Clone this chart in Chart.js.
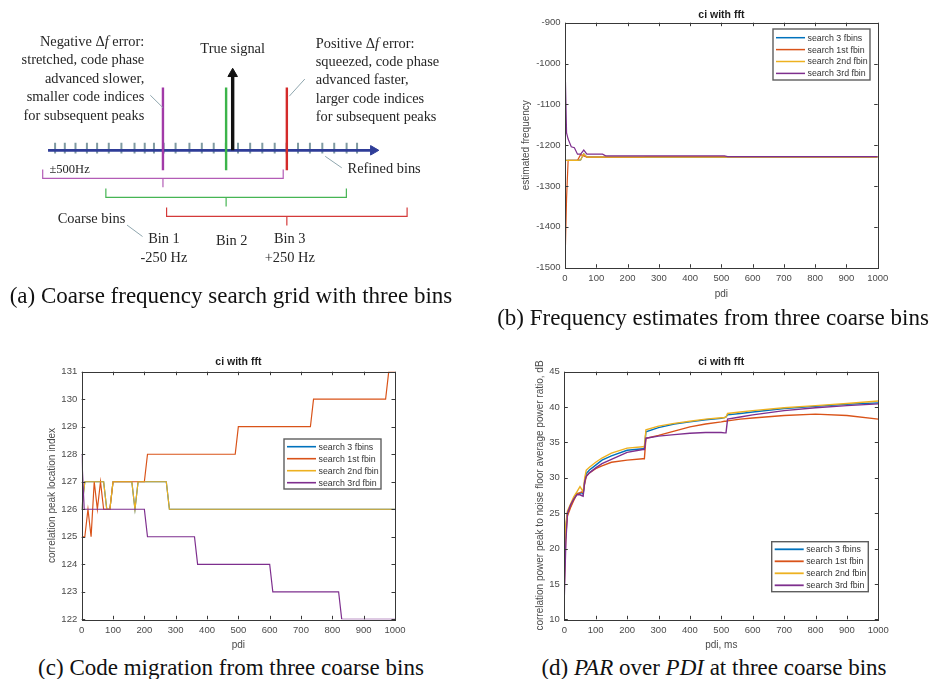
<!DOCTYPE html>
<html><head><meta charset="utf-8">
<script src="https://cdn.jsdelivr.net/npm/chart.js@4"></script>
<style>
html,body{margin:0;padding:0;background:#fff;}
body{width:933px;height:679px;position:relative;overflow:hidden;}
.pane{position:absolute;}
.pane canvas{display:block;}
.cap{position:absolute;font-family:"Liberation Serif","Times New Roman",serif;font-size:23px;color:#111;text-align:center;white-space:nowrap;line-height:26px;width:520px;}
</style></head><body>
<div class="pane" style="left:0;top:0;width:460px;height:285px"><canvas id="ca" width="460" height="285" style="width:460px;height:285px"></canvas></div>
<div class="pane" style="left:520px;top:0;width:413px;height:300px"><canvas id="cb" width="413" height="300" style="width:413px;height:300px"></canvas></div>
<div class="pane" style="left:0;top:335px;width:460px;height:316px"><canvas id="cc" width="460" height="316" style="width:460px;height:316px"></canvas></div>
<div class="pane" style="left:520px;top:335px;width:413px;height:316px"><canvas id="cd" width="413" height="316" style="width:413px;height:316px"></canvas></div>
<div class="cap" style="left:-29px;top:283px">(a) Coarse frequency search grid with three bins</div>
<div class="cap" style="left:453px;top:305px">(b) Frequency estimates from three coarse bins</div>
<div class="cap" style="left:-29px;top:655px">(c) Code migration from three coarse bins</div>
<div class="cap" style="left:454px;top:655px">(d) <i>PAR</i> over <i>PDI</i> at three coarse bins</div>
<script>
// ---------------- DATA ----------------
const seriesNames = ['search 3 fbins', 'search 1st fbin', 'search 2nd fbin', 'search 3rd fbin'];
const seriesColors = ['#0072BD', '#D95319', '#EDB120', '#7E2F8E'];

// (b) estimated frequency vs pdi
const pdiB = [0, 5, 10, 20, 30, 40, 50, 60, 70, 80, 90, 100, 110, 120, 130, 200, 250, 260, 300, 400, 500, 510, 520, 600, 700, 800, 900, 1000];
const freq3fbins = [-1237, -1237, -1237, -1237, -1237, -1237, -1236, -1221, -1229, -1229, -1229, -1229, -1229, -1229, -1229, -1229, -1229, -1229, -1229, -1229, -1229, -1229, -1229, -1229, -1229, -1229, -1229, -1229];
const freq1st = [-1490, -1330, -1237, -1237, -1237, -1237, -1223, -1226, -1229, -1229, -1229, -1229, -1229, -1229, -1229, -1229, -1229, -1228, -1228, -1228, -1228, -1228, -1228, -1228, -1228, -1228, -1228, -1228];
const freq2nd = [-1237, -1237, -1237, -1237, -1237, -1237, -1236, -1221, -1229, -1229, -1229, -1229, -1229, -1229, -1229, -1229, -1229, -1229, -1229, -1229, -1229, -1229, -1229, -1229, -1229, -1229, -1229, -1229];
const freq3rd = [-995, -1170, -1185, -1204, -1206, -1222, -1222, -1212, -1222, -1222, -1222, -1222, -1222, -1222, -1226, -1226, -1226, -1226, -1226, -1226, -1226, -1226, -1228, -1228, -1228, -1228, -1228, -1228];

// (c) correlation peak location index vs pdi (breakpoints of each step series)
const code3fbinsPdi = [0, 10, 70, 80, 90, 100, 160, 170, 180, 270, 280, 1000];
const code3fbins    = [126, 127, 127, 126, 126, 127, 127, 126, 127, 127, 126, 126];
const code1stPdi = [0, 10, 20, 30, 40, 50, 60, 70, 90, 100, 200, 210, 490, 500, 730, 740, 970, 980, 1000];
const code1st    = [125, 125, 126, 125, 127, 126, 127, 126, 126, 127, 127, 128, 128, 129, 129, 130, 130, 131, 131];
const code2ndPdi = [0, 10, 70, 80, 90, 100, 160, 170, 180, 270, 280, 1000];
const code2nd    = [126, 127, 127, 126, 126, 127, 127, 126, 127, 127, 126, 126];
const code3rdPdi = [0, 8, 200, 210, 360, 370, 600, 610, 820, 830, 1000];
const code3rd    = [128, 126, 126, 125, 125, 124, 124, 123, 123, 122, 122];

// (d) PAR (dB) vs pdi (ms)
const pdiD = [0, 5, 10, 20, 30, 40, 50, 55, 60, 65, 70, 80, 100, 120, 150, 200, 250, 255, 260, 300, 350, 400, 450, 500, 510, 515, 520, 560, 600, 700, 800, 900, 1000];
const par3fbins = [18, 23, 25, 26, 27, 27.8, 27.8, 27.9, 27.7, 29.5, 30.6, 31.1, 31.8, 32.5, 33.1, 33.9, 34.1, 34.2, 36.5, 37.1, 37.6, 37.9, 38.2, 38.4, 38.5, 38.6, 38.9, 39.1, 39.3, 39.8, 40.1, 40.4, 40.6];
const par1st    = [15, 22, 24.6, 25.8, 26.8, 27.7, 27.9, 28.0, 27.9, 29.2, 30.2, 30.7, 31.3, 31.7, 32.2, 32.5, 32.7, 32.7, 35.6, 36.0, 36.6, 37.2, 37.6, 37.9, 38.0, 38.0, 38.05, 38.3, 38.45, 38.8, 39.0, 38.8, 38.3];
const par2nd    = [17, 23.5, 25.3, 26.3, 27.3, 28.0, 28.75, 28.4, 28.0, 30.0, 31.1, 31.5, 32.2, 32.8, 33.5, 34.2, 34.4, 34.4, 36.8, 37.3, 37.7, 38.0, 38.3, 38.5, 38.5, 38.6, 39.1, 39.3, 39.5, 39.9, 40.2, 40.5, 40.85];
const par3rd    = [13.2, 21, 25, 26.2, 27, 27.6, 27.6, 27.5, 27.4, 29.5, 30.2, 30.7, 31.4, 32.0, 32.6, 33.6, 34.0, 34.0, 35.6, 35.9, 36.1, 36.3, 36.4, 36.4, 36.35, 36.35, 38.3, 38.6, 38.9, 39.5, 39.9, 40.2, 40.45];

// (a) diagram: frequency offsets in Hz (hand-drawn grid)
const refinedBins = [-704, -664, -620, -573, -531, -483, -431, -377, -335, -297, -257, -208, -151, -100, -51, -1, 49, 99, 149, 200, 249, 296, 345, 396, 445, 496, 539];
const coarseBins = [-260, 0, 250];
const coarseHalfSpan = 495;
const trueSignalHz = 27;
const axisStartHz = -733, axisEndHz = 606;
const binNames = ['Bin 1', 'Bin 2', 'Bin 3'];
const binOffsets = ['-250 Hz', '', '+250 Hz'];
const binLabelHz = [-256, 23, 262];
const binColors = ['#a23aa8', '#3cb44a', '#d42a2a'];
const bracketColors = ['#b35cb6', '#46b553', '#d43a3a'];
const negText = ['Negative Δ*f* error:', 'stretched, code phase', 'advanced slower,', 'smaller code indices', 'for subsequent peaks'];
const posText = ['Positive Δ*f* error:', 'squeezed, code phase', 'advanced faster,', 'larger code indices', 'for subsequent peaks'];

// ---------------- HELPERS ----------------
const sansFamily = '"Liberation Sans", Arial, Helvetica, sans-serif';
const serifFamily = '"Liberation Serif", "Times New Roman", serif';
const tickColor = '#4a4a4a';
function xy(xs, ys) { return xs.map((x, i) => ({ x: x, y: ys[i] })); }
function series(i, xs, ys, w) {
  return { label: seriesNames[i], data: xy(xs, ys), borderColor: seriesColors[i], backgroundColor: seriesColors[i],
    borderWidth: w, pointRadius: 0, tension: 0, fill: false, order: 4 - i };
}

const matlabAxes = {
  id: 'matlabAxes',
  afterDatasetsDraw(chart, args, o) {
    if (!o || !o.title) return;
    const { ctx, chartArea: a, scales } = chart;
    const x = scales.x, y = scales.y;
    ctx.save();
    ctx.strokeStyle = '#383838'; ctx.lineWidth = 1;
    const tl = 3.5;
    ctx.beginPath();
    x.ticks.forEach(t => { const p = Math.round(x.getPixelForValue(t.value)) + 0.5;
      ctx.moveTo(p, a.bottom); ctx.lineTo(p, a.bottom - tl); ctx.moveTo(p, a.top); ctx.lineTo(p, a.top + tl); });
    y.ticks.forEach(t => { const p = Math.round(y.getPixelForValue(t.value)) + 0.5;
      ctx.moveTo(a.left, p); ctx.lineTo(a.left + tl, p); ctx.moveTo(a.right, p); ctx.lineTo(a.right - tl, p); });
    ctx.stroke();
    ctx.strokeRect(Math.round(a.left) + 0.5, Math.round(a.top) + 0.5, Math.round(a.right - a.left), Math.round(a.bottom - a.top));
    // title
    ctx.fillStyle = '#1e1e1e'; ctx.font = 'bold 10.5px ' + sansFamily;
    ctx.textAlign = 'center'; ctx.textBaseline = 'middle';
    ctx.fillText(o.title, (a.left + a.right) / 2, a.top - o.titleGap);
    // legend
    const L = o.legend;
    const left = a.right - L.dx - L.w;
    const top = L.anchor === 'top' ? a.top + L.dy : a.bottom - L.dy - L.h;
    ctx.fillStyle = '#fff'; ctx.fillRect(left, top, L.w, L.h);
    ctx.strokeStyle = '#5e5e5e'; ctx.lineWidth = 1.4; ctx.strokeRect(left, top, L.w, L.h);
    ctx.font = '8.8px ' + sansFamily; ctx.textAlign = 'left';
    chart.data.datasets.forEach((ds, i) => {
      const yy = top + L.first + i * L.step;
      ctx.strokeStyle = ds.borderColor; ctx.lineWidth = L.lw;
      ctx.beginPath(); ctx.moveTo(left + 3, yy); ctx.lineTo(left + 32, yy); ctx.stroke();
      ctx.fillStyle = '#333'; ctx.fillText(ds.label, left + 34.5, yy + 0.5);
    });
    ctx.restore();
  }
};

function chartOptions(c) {
  return {
    responsive: false, animation: false, events: [], devicePixelRatio: 1,
    layout: { padding: c.pad },
    plugins: { legend: { display: false }, tooltip: { enabled: false }, title: { display: false }, matlabAxes: c.box },
    scales: {
      x: { type: 'linear', min: 0, max: 1000, afterFit: s => { s.height = c.xH; },
        grid: { display: false, drawTicks: false }, border: { display: false },
        ticks: { stepSize: 100, maxRotation: 0, autoSkip: false, padding: 5, color: tickColor, font: { family: sansFamily, size: 9.5 }, callback: v => String(v) },
        title: { display: true, text: c.xTitle, color: tickColor, font: { family: sansFamily, size: 10 }, padding: 0 } },
      y: { type: 'linear', min: c.yMin, max: c.yMax, afterFit: s => { s.width = c.yW; },
        grid: { display: false, drawTicks: false }, border: { display: false },
        ticks: { stepSize: c.yStep, padding: 4.5, autoSkip: false, color: tickColor, font: { family: sansFamily, size: 9.5 }, callback: v => String(v) },
        title: { display: true, text: c.yTitle, color: tickColor, font: { family: sansFamily, size: 10 }, padding: 0 } }
    }
  };
}

// ---------------- (b) ----------------
new Chart(document.getElementById('cb'), {
  type: 'line',
  data: { datasets: [series(0, pdiB, freq3fbins, 1.2), series(1, pdiB, freq1st, 1.2), series(2, pdiB, freq2nd, 1.2), series(3, pdiB, freq3rd, 1.2)] },
  options: chartOptions({ pad: { left: 0, right: 55.3, top: 22.7, bottom: 0 }, xH: 32.3, yW: 45, yMin: -1500, yMax: -900, yStep: 100,
    xTitle: 'pdi', yTitle: 'estimated frequency',
    box: { title: 'ci with fft', titleGap: 8, legend: { anchor: 'top', dx: 7.7, dy: 6.3, w: 97, h: 51, first: 8.7, step: 11.9, lw: 1.5 } } }),
  plugins: [matlabAxes]
});

// ---------------- (c) ----------------
new Chart(document.getElementById('cc'), {
  type: 'line',
  data: { datasets: [series(0, code3fbinsPdi, code3fbins, 1.2), series(1, code1stPdi, code1st, 1.2), series(2, code2ndPdi, code2nd, 1.2), series(3, code3rdPdi, code3rd, 1.2)] },
  options: chartOptions({ pad: { left: 46, right: 65, top: 36.7, bottom: 0 }, xH: 31.7, yW: 35.7, yMin: 122, yMax: 131, yStep: 1,
    xTitle: 'pdi', yTitle: 'correlation peak location index',
    box: { title: 'ci with fft', titleGap: 9.4, legend: { anchor: 'top', dx: 14, dy: 67.3, w: 97, h: 50, first: 7.7, step: 12, lw: 1.6 } } }),
  plugins: [matlabAxes]
});

// ---------------- (d) ----------------
new Chart(document.getElementById('cd'), {
  type: 'line',
  data: { datasets: [series(0, pdiD, par3fbins, 1.4), series(1, pdiD, par1st, 1.4), series(2, pdiD, par2nd, 1.4), series(3, pdiD, par3rd, 1.4)] },
  options: chartOptions({ pad: { left: 14.7, right: 54.7, top: 36.7, bottom: 0 }, xH: 31.7, yW: 29.6, yMin: 10, yMax: 45, yStep: 5,
    xTitle: 'pdi, ms', yTitle: 'correlation power peak to noise floor average power ratio, dB',
    box: { title: 'ci with fft', titleGap: 9.4, legend: { anchor: 'bottom', dx: 10, dy: 27.6, w: 96.6, h: 50, first: 7.6, step: 12, lw: 1.8 } } }),
  plugins: [matlabAxes]
});

// ---------------- (a) diagram ----------------
function drawRich(ctx, str, px, py, align, size) {
  const runs = str.split('*');
  const fonts = runs.map((r, i) => (i % 2 ? 'italic ' : '') + size + 'px ' + serifFamily);
  let total = 0;
  const widths = runs.map((r, i) => { ctx.font = fonts[i]; const w = ctx.measureText(r).width; total += w; return w; });
  let sx = align === 'right' ? px - total : align === 'center' ? px - total / 2 : px;
  ctx.textAlign = 'left';
  runs.forEach((r, i) => { ctx.font = fonts[i]; ctx.fillText(r, sx, py); sx += widths[i]; });
}
const diagramText = {
  id: 'diagramText',
  afterDatasetsDraw(chart, args, o) {
    const { ctx, scales: { x, y } } = chart;
    ctx.save(); ctx.fillStyle = '#262626'; ctx.textBaseline = 'middle';
    o.items.forEach(it => drawRich(ctx, it.t, x.getPixelForValue(it.x), y.getPixelForValue(it.y), it.align, it.size || 14.4));
    ctx.restore();
  }
};
const lineStep = 19.3;
const textItems = [];
negText.forEach((t, i) => textItems.push({ t: t, x: -337, y: 113.4 - i * lineStep, align: 'right' }));
posText.forEach((t, i) => textItems.push({ t: t, x: 369, y: 111.7 - i * lineStep, align: 'left' }));
textItems.push({ t: 'True signal', x: trueSignalHz, y: 105.7, align: 'center' });
textItems.push({ t: '±500Hz', x: -727, y: -20, align: 'left', size: 12.5 });
textItems.push({ t: 'Refined bins', x: 500, y: -20, align: 'left' });
textItems.push({ t: 'Coarse bins', x: -693, y: -72.6, align: 'left' });
coarseBins.forEach((f, i) => {
  textItems.push({ t: binNames[i], x: binLabelHz[i], y: i === 1 ? -95 : -93.3, align: 'center' });
  if (binOffsets[i]) textItems.push({ t: binOffsets[i], x: binLabelHz[i], y: -112.6, align: 'center' });
});

const tickData = [];
refinedBins.forEach(f => { tickData.push({ x: f, y: 8 }, { x: f, y: -3.3 }, { x: f, y: null }); });
const diagSets = [];
diagSets.push({ data: tickData, borderColor: '#7f9aa2', borderWidth: 2, showLine: true, pointRadius: 0, spanGaps: false, order: 5 });
diagSets.push({ data: [{ x: axisStartHz, y: 0 }, { x: axisEndHz, y: 0 }], borderColor: '#2f3d98', backgroundColor: '#2f3d98',
  borderWidth: 2.6, showLine: true, pointRadius: [0, 5.5], pointStyle: 'triangle', pointRotation: 90,
  pointBackgroundColor: '#2f3d98', pointBorderColor: '#2f3d98', pointBorderWidth: 1, order: 4 });
coarseBins.forEach((f, i) => {
  diagSets.push({ data: [{ x: f, y: -21 }, { x: f, y: 65.7 }], borderColor: binColors[i], borderWidth: 2.4, showLine: true, pointRadius: 0, order: 3 });
  const top = -20 - 20 * i, mid = top - 9.3, tip = mid - 9.5;
  diagSets.push({ data: [{ x: f - coarseHalfSpan, y: top }, { x: f - coarseHalfSpan, y: mid }, { x: f, y: mid }, { x: f, y: tip }, { x: f, y: mid },
    { x: f + coarseHalfSpan, y: mid }, { x: f + coarseHalfSpan, y: top }], borderColor: bracketColors[i], borderWidth: 1.2, showLine: true, pointRadius: 0, order: 3 });
});
diagSets.push({ data: [{ x: trueSignalHz, y: 0 }, { x: trueSignalHz, y: 80.2 }], borderColor: '#111', borderWidth: 3.4, showLine: true,
  pointRadius: [0, 5.5], pointStyle: 'triangle', pointRotation: 0, pointBackgroundColor: '#111', pointBorderColor: '#111', pointBorderWidth: 1, order: 1 });
diagSets.push({ data: [{ x: -312, y: 57.7 }, { x: -260, y: 44.7 }, { x: 0, y: null }, { x: 324, y: 74.7 }, { x: 260, y: 56.7 }, { x: 0, y: null },
  { x: 408, y: -6.3 }, { x: 476, y: -18.3 }, { x: 0, y: null }, { x: -408, y: -78.3 }, { x: -344, y: -90.3 }],
  borderColor: '#8fa6ae', borderWidth: 1, showLine: true, pointRadius: 0, spanGaps: false, order: 2 });

new Chart(document.getElementById('ca'), {
  type: 'scatter',
  data: { datasets: diagSets },
  options: {
    responsive: false, animation: false, events: [], devicePixelRatio: 1,
    layout: { padding: 0 },
    plugins: { legend: { display: false }, tooltip: { enabled: false }, diagramText: { items: textItems } },
    scales: { x: { type: 'linear', min: -904, max: 936, display: false }, y: { type: 'linear', min: -134.3, max: 150.7, display: false } },
    elements: { line: { tension: 0 } }
  },
  plugins: [diagramText]
});
</script>
</body></html>
